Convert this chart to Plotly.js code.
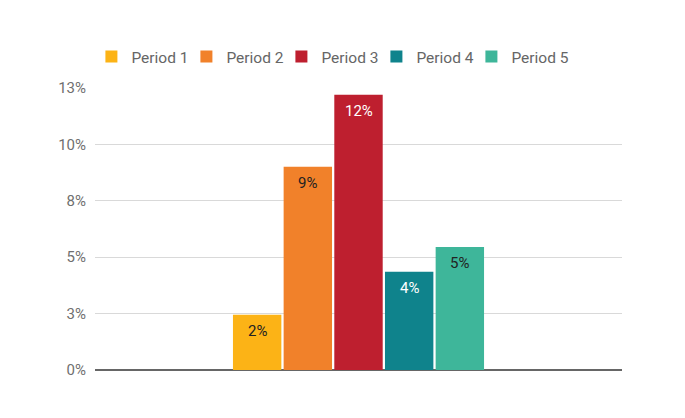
<!DOCTYPE html>
<html>
<head>
<meta charset="utf-8">
<script src="https://cdn.plot.ly/plotly-3.0.1.min.js"></script>
<style>
  html, body { margin: 0; padding: 0; background: #fff; }
  #chart { width: 685px; height: 418px; }
</style>
</head>
<body>
<div id="chart"></div>
<script>
// values in percent
var periods = ['Period 1', 'Period 2', 'Period 3', 'Period 4', 'Period 5'];
var values = [2.45, 9.01, 12.2, 4.35, 5.45];
var colors = ['#FCB316', '#F1812A', '#BE1F2F', '#0F838C', '#3EB69A'];
var labelColors = ['#222222', '#222222', '#ffffff', '#ffffff', '#222222'];
var tickVals = [0, 2.5, 5, 7.5, 10, 12.5];
var tickText = ['0%', '3%', '5%', '8%', '10%', '13%'];

var traces = [];
var labels = [];
for (var i = 0; i < periods.length; i++) {
  var t = {
    type: 'bar',
    name: periods[i],
    x: [i],
    y: [values[i]],
    width: 0.955,
    marker: {color: colors[i]},
    hoverinfo: 'none'
  };
  // tighter legend spacing, last entry keeps its full text width
  if (i < periods.length - 1) t.legendwidth = 50;
  traces.push(t);
  // value label sits a bit below the top of each bar
  labels.push({
    x: i, y: values[i], xref: 'x', yref: 'y',
    text: Math.round(values[i]) + '%',
    showarrow: false, yanchor: 'middle', yshift: -16,
    font: {family: 'Roboto', size: 15, color: labelColors[i]}
  });
}

Plotly.newPlot('chart', traces, {
  width: 685,
  height: 418,
  margin: {l: 95, r: 63, t: 88, b: 48},
  paper_bgcolor: '#fff',
  plot_bgcolor: '#fff',
  font: {family: 'Roboto', color: '#666'},
  barmode: 'overlay',
  showlegend: true,
  annotations: labels,
  legend: {
    orientation: 'h',
    xref: 'container', yref: 'container',
    x: 0.486, xanchor: 'center',
    y: 1 - 57 / 418, yanchor: 'middle',
    font: {family: 'Roboto', size: 15.5, color: '#666'},
    traceorder: 'normal'
  },
  xaxis: {
    range: [-3.2, 7.2],
    showticklabels: false,
    showgrid: false,
    zeroline: false,
    showline: false,
    fixedrange: true
  },
  yaxis: {
    range: [0, 12.5],
    tickvals: tickVals,
    ticktext: tickText,
    tickfont: {family: 'Roboto', size: 15, color: '#6f6f6f'},
    gridcolor: '#d9d9d9',
    gridwidth: 1,
    zeroline: true,
    zerolinecolor: '#666',
    zerolinewidth: 1.5,
    ticklabelstandoff: 8,
    fixedrange: true
  }
}, {displayModeBar: false, staticPlot: true});
</script>
</body>
</html>
